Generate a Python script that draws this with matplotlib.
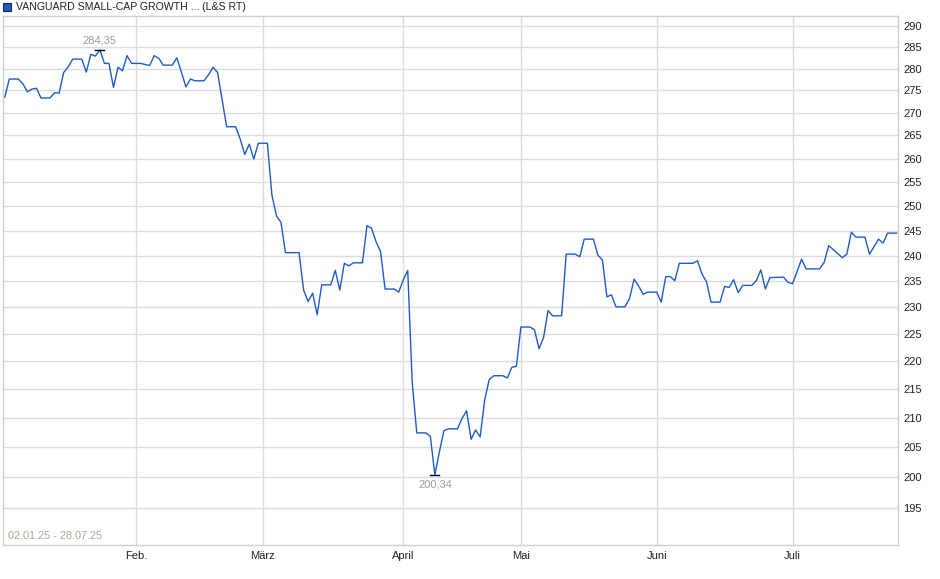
import matplotlib
matplotlib.use("Agg")
import matplotlib.pyplot as plt
import matplotlib.patches as mpatches
from matplotlib.ticker import FixedLocator, NullLocator

plt.rcParams['font.family'] = ['Liberation Sans', 'DejaVu Sans']

# price points (index = point number, flats have only their ends)
day = [0, 1, 3, 4, 5, 6, 7, 8, 10, 11, 12, 13, 14, 15, 17, 18, 19, 20, 21, 22,
       23, 24, 25, 26, 27, 28, 30, 32, 33, 34, 35, 37, 38, 39, 40, 41, 42, 44, 45, 46,
       47, 48, 49, 51, 52, 53, 54, 55, 56, 58, 59, 60, 61, 62, 65, 66, 67, 68, 69, 70,
       72, 73, 74, 75, 76, 77, 79, 80, 81, 82, 83, 84, 86, 87, 88, 89, 90, 91, 93, 94,
       95, 96, 97, 98, 100, 101, 102, 103, 104, 105, 106, 107, 108, 110, 111, 112, 113, 114, 116, 117,
       118, 119, 120, 121, 123, 124, 126, 127, 128, 130, 131, 132, 133, 134, 135, 137, 138, 139, 140, 141,
       142, 144, 145, 146, 147, 148, 149, 152, 153, 154, 155, 156, 158, 159, 160, 161, 162, 163, 165, 166,
       167, 168, 169, 172, 173, 174, 176, 177, 180, 181, 182, 185, 186, 187, 188, 190, 191, 193, 194, 195,
       197]
price = [273.5, 277.6, 277.6, 276.5, 274.7, 275.3, 275.5, 273.3, 273.3, 274.5, 274.4, 279.1, 280.4, 282.2, 282.2, 279.2, 283.3, 282.9, 284.35, 281.2,
         281.2, 275.7, 280.3, 279.5, 283.0, 281.2, 281.2, 280.7, 283.0, 282.4, 280.8, 280.8, 282.5, 279.2, 275.8, 277.6, 277.2, 277.2, 278.6, 280.3,
         279.1, 272.9, 266.9, 266.9, 264.2, 260.9, 263.1, 259.9, 263.3, 263.3, 252.3, 248.0, 246.7, 240.6, 240.6, 233.3, 231.1, 232.7, 228.6, 234.3,
         234.3, 237.1, 233.3, 238.5, 238.0, 238.6, 238.6, 246.0, 245.5, 242.8, 240.8, 233.5, 233.5, 232.9, 235.2, 237.1, 216.1, 207.4, 207.4, 206.8,
         200.34, 204.2, 207.8, 208.1, 208.1, 209.9, 211.2, 206.3, 207.9, 206.7, 213.1, 216.7, 217.4, 217.4, 217.0, 218.9, 219.1, 226.3, 226.3, 225.8,
         222.3, 224.3, 229.4, 228.4, 228.4, 240.3, 240.3, 239.8, 243.3, 243.3, 240.1, 239.2, 232.0, 232.4, 230.1, 230.1, 231.7, 235.4, 234.1, 232.5,
         232.9, 232.9, 231.0, 235.9, 235.9, 235.1, 238.5, 238.5, 239.0, 236.4, 234.9, 231.0, 231.0, 234.0, 233.8, 235.3, 232.8, 234.2, 234.2, 235.1,
         237.2, 233.5, 235.7, 235.8, 234.8, 234.5, 239.3, 237.4, 237.4, 238.7, 242.0, 239.6, 240.3, 244.7, 243.7, 243.7, 240.3, 243.3, 242.5, 244.5,
         244.5]

month_pos = [29, 57, 88, 114, 144, 174]
month_labels = ['Feb.', 'März', 'April', 'Mai', 'Juni', 'Juli']
y_ticks = list(range(195, 295, 5))

title = 'VANGUARD SMALL-CAP GROWTH ... (L&S RT)'
date_range = '02.01.25 - 28.07.25'

fig = plt.figure(figsize=(9.4, 5.79), dpi=100)
ax = fig.add_axes([3 / 940, 34 / 579, 895 / 940, 529 / 579])

ax.plot(day, price, color='#1f5bc4', linewidth=1.0, zorder=3)

ax.set_yscale('log')
ax.set_ylim(189.1, 292.4)
ax.set_xlim(-0.4, 197.3)

ax.yaxis.set_major_locator(FixedLocator(y_ticks))
ax.yaxis.set_minor_locator(NullLocator())
ax.set_yticklabels([str(v) for v in y_ticks])
ax.yaxis.tick_right()
ax.xaxis.set_major_locator(FixedLocator(month_pos))
ax.set_xticklabels(month_labels)

ax.tick_params(axis='both', length=0, labelsize=8, colors='#222222')
ax.tick_params(axis='y', pad=4)
ax.tick_params(axis='x', pad=4)
ax.grid(True, color='#dcdcdc', linewidth=1.0)
ax.set_axisbelow(True)
for s in ax.spines.values():
    s.set_color('#cfcfcf')
    s.set_linewidth(1.0)

# high / low markers
hi = price.index(max(price))
lo = price.index(min(price))
ax.plot([day[hi] - 1, day[hi] + 1], [price[hi], price[hi]], color='black', lw=1.0, zorder=4)
ax.plot([day[lo] - 1, day[lo] + 1], [price[lo], price[lo]], color='black', lw=1.0, zorder=4)
ax.annotate(f'{price[hi]:.2f}'.replace('.', ','), (day[hi], price[hi]), xytext=(0, 3),
            textcoords='offset points', ha='center', va='bottom', fontsize=8, color='#a59d95')
ax.annotate(f'{price[lo]:.2f}'.replace('.', ','), (day[lo], price[lo]), xytext=(0, -3),
            textcoords='offset points', ha='center', va='top', fontsize=8, color='#a59d95')

ax.text(0.006, 0.008, date_range, transform=ax.transAxes, ha='left', va='bottom',
        fontsize=7.8, color='#b0a494')

# legend-ish title
fig.patches.append(mpatches.Rectangle((3 / 940, 1 - 11 / 579), 8 / 940, 8 / 579,
                                      transform=fig.transFigure, facecolor='#1f5bc4',
                                      edgecolor='#1a2a50', linewidth=0.8))
fig.text(16 / 940, 1 - 6.5 / 579, title, ha='left', va='center', fontsize=7.6, color='#222222')

fig.savefig('out.png', dpi=100)
